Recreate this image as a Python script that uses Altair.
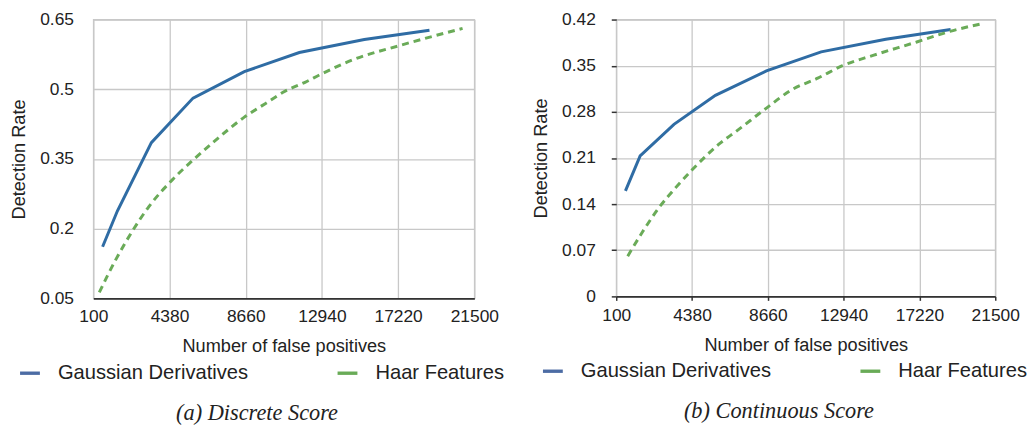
import altair as alt
import pandas as pd

# ---- data ----
series_names = ["Gaussian Derivatives", "Haar Features"]

x_gauss = [620, 1450, 3360, 5700, 8580, 11670, 15320, 18980]
gauss_a = [0.161, 0.238, 0.385, 0.481, 0.538, 0.579, 0.607, 0.627]
gauss_b = [0.160, 0.213, 0.261, 0.305, 0.342, 0.371, 0.390, 0.405]

x_haar_a = [435, 1369, 2297, 3230, 4533, 5707, 6959, 8580, 9754, 10872, 11990, 12918, 14785, 17205, 20839]
haar_a = [0.063, 0.134, 0.195, 0.248, 0.305, 0.348, 0.390, 0.440, 0.469, 0.496, 0.515, 0.533, 0.565, 0.593, 0.631]

x_haar_b = [749, 1588, 2523, 3457, 4386, 5880, 6999, 8582, 9981, 11474, 12874, 14647, 17069, 18933, 20707]
haar_b = [0.061, 0.098, 0.135, 0.165, 0.192, 0.2305, 0.253, 0.2857, 0.313, 0.331, 0.350, 0.366, 0.386, 0.402, 0.4135]

x_ticks = [100, 4380, 8660, 12940, 17220, 21500]
y_ticks_a = [0.05, 0.2, 0.35, 0.5, 0.65]
y_ticks_b = [0, 0.07, 0.14, 0.21, 0.28, 0.35, 0.42]

captions = ["(a) Discrete Score", "(b) Continuous Score"]

BLUE = "#2f6ca4"
GREEN = "#6aab58"
# legend swatches are drawn at the point mark's default 0.7 opacity,
# so they use darker tones that show as BLUE / GREEN on white
KEY_BLUE = "#002d7d"
KEY_GREEN = "#2a8710"
SANS = "Liberation Sans"
BAR_SYMBOL = "M-1,-0.17L1,-0.17L1,0.17L-1,0.17Z"


def frame(xg, yg, xh, yh):
    a = pd.DataFrame({"x": xg, "y": yg, "series": series_names[0]})
    b = pd.DataFrame({"x": xh, "y": yh, "series": series_names[1]})
    return pd.concat([a, b], ignore_index=True)


def panel(df, yticks, caption, w, h, with_ticks, label_pad_y, label_pad_x):
    color = alt.Color(
        "series:N",
        scale=alt.Scale(domain=series_names, range=[KEY_BLUE, KEY_GREEN]),
        legend=alt.Legend(
            title=None, orient="none", legendX=-74, legendY=h + 65,
            direction="horizontal", symbolType=BAR_SYMBOL, symbolSize=400,
            symbolStrokeWidth=0, labelFontSize=20.3,
            labelOffset=18, columnPadding=90, labelFont=SANS,
            labelColor="#222", labelLimit=0,
        ),
    )
    x = alt.X(
        "x:Q",
        scale=alt.Scale(domain=[x_ticks[0], x_ticks[-1]], nice=False, zero=False),
        axis=alt.Axis(
            values=x_ticks, format="d", title="Number of false positives",
            labelFlush=False, ticks=with_ticks, tickSize=4, tickColor="#333",
            tickWidth=1.5, labelPadding=label_pad_x, domainColor="#333",
            domainWidth=1.6, titlePadding=13.5,
        ),
    )
    y = alt.Y(
        "y:Q",
        scale=alt.Scale(domain=[yticks[0], yticks[-1]], nice=False, zero=False),
        axis=alt.Axis(
            values=yticks, format=".2~f", title="Detection Rate",
            ticks=with_ticks, tickSize=5, tickColor="#333", tickWidth=1.5,
            domain=False, labelPadding=label_pad_y, titlePadding=11,
        ),
    )
    base = alt.Chart(df)
    gauss = (
        base.transform_filter(alt.datum.series == series_names[0])
        .mark_line(strokeWidth=3, interpolate="linear", color=BLUE)
        .encode(x=x, y=y)
    )
    haar = (
        base.transform_filter(alt.datum.series == series_names[1])
        .mark_line(strokeWidth=3, interpolate="monotone", strokeDash=[7, 5], color=GREEN)
        .encode(x=x, y=y)
    )
    # legend carrier: draws no marks, only provides the colour legend
    key = (
        base.transform_filter("false")
        .mark_point(filled=True, shape=BAR_SYMBOL, size=400)
        .encode(x=x, y=y, color=color)
    )
    return alt.layer(gauss, haar, key).properties(
        width=w,
        height=h,
        title=alt.TitleParams(
            caption, orient="bottom", font="Liberation Serif", fontStyle="italic",
            fontWeight="normal", fontSize=22.5, color="#222", dx=-27, offset=19,
            anchor="middle",
        ),
    )


left = panel(frame(x_gauss, gauss_a, x_haar_a, haar_a), y_ticks_a, captions[0], 384, 281, False, 20, 9)
right = panel(frame(x_gauss, gauss_b, x_haar_b, haar_b), y_ticks_b, captions[1], 382, 279, True, 16, 6)

chart = (
    alt.hconcat(left, right, spacing=26)
    .resolve_legend(color="independent")
    .properties(padding={"left": 1, "top": 0, "right": 0, "bottom": 0})
    .configure_view(stroke="#c8c8c8", strokeWidth=1.3)
    .configure_axis(
        gridColor="#c8c8c8", gridWidth=1.3, labelFont=SANS, titleFont=SANS,
        labelFontSize=17.5, titleFontSize=18.3, titleFontWeight="normal",
        labelColor="#222", titleColor="#222",
    )
)

chart.save("out.html", embed_options={"renderer": "svg", "actions": False})
